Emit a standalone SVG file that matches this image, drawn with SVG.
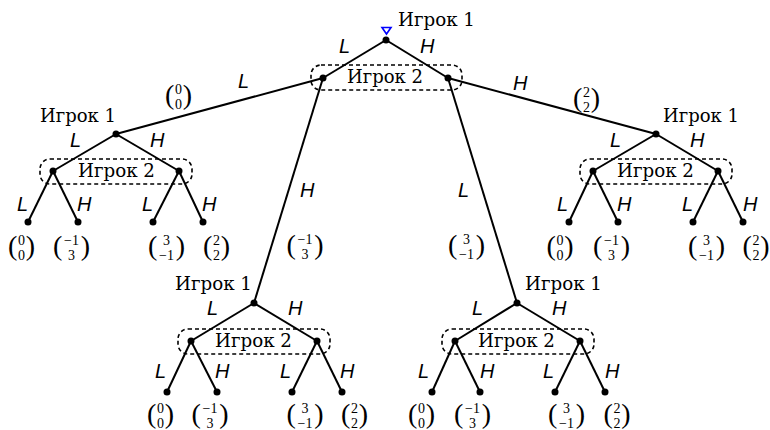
<svg xmlns="http://www.w3.org/2000/svg" width="770" height="430" viewBox="0 0 770 430">
<style>
.e{stroke:#000;stroke-width:2;fill:none}
.d{fill:#000}
.set{fill:none;stroke:#000;stroke-width:1.6;stroke-dasharray:4,3}
.pl{font-family:"DejaVu Serif","Liberation Serif",serif;font-size:18px;fill:#000}
.lb{font-family:"Liberation Sans",Arial,sans-serif;font-style:italic;font-size:20px;fill:#000}
.v{font-family:"Liberation Serif","Times New Roman",serif;fill:#000}
.num{font-size:14px;text-anchor:middle}
.pa{font-size:28px;text-anchor:start}
.pb{font-size:28px;text-anchor:end}
</style>
<rect width="770" height="430" fill="#fff"/>

<g id="connectors">
<line class="e" x1="386" y1="40" x2="323" y2="78"/>
<line class="e" x1="386" y1="40" x2="448" y2="78"/>
<line class="e" x1="323" y1="78" x2="116" y2="134"/>
<line class="e" x1="323" y1="78" x2="254" y2="303"/>
<line class="e" x1="448" y1="78" x2="517" y2="303"/>
<line class="e" x1="448" y1="78" x2="656" y2="134"/>
<line class="e" x1="116" y1="134" x2="53" y2="171"/>
<line class="e" x1="116" y1="134" x2="179" y2="171"/>
<line class="e" x1="53" y1="171" x2="28" y2="222"/>
<line class="e" x1="53" y1="171" x2="78" y2="222"/>
<line class="e" x1="179" y1="171" x2="153" y2="222"/>
<line class="e" x1="179" y1="171" x2="203" y2="222"/>
<line class="e" x1="656" y1="134" x2="593" y2="171"/>
<line class="e" x1="656" y1="134" x2="718" y2="171"/>
<line class="e" x1="593" y1="171" x2="569" y2="222"/>
<line class="e" x1="593" y1="171" x2="618" y2="222"/>
<line class="e" x1="718" y1="171" x2="693" y2="222"/>
<line class="e" x1="718" y1="171" x2="743" y2="222"/>
<line class="e" x1="254" y1="303" x2="191" y2="341"/>
<line class="e" x1="254" y1="303" x2="317" y2="341"/>
<line class="e" x1="191" y1="341" x2="167" y2="392"/>
<line class="e" x1="191" y1="341" x2="217" y2="392"/>
<line class="e" x1="317" y1="341" x2="292" y2="392"/>
<line class="e" x1="317" y1="341" x2="342" y2="392"/>
<line class="e" x1="517" y1="303" x2="455" y2="341"/>
<line class="e" x1="517" y1="303" x2="580" y2="341"/>
<line class="e" x1="455" y1="341" x2="432" y2="392"/>
<line class="e" x1="455" y1="341" x2="480" y2="392"/>
<line class="e" x1="580" y1="341" x2="555" y2="392"/>
<line class="e" x1="580" y1="341" x2="605" y2="392"/>

<text class="lb" x="339" y="53">L</text>
<text class="lb" x="420" y="53">H</text>
<text class="lb" x="238" y="88">L</text>
<text class="lb" x="513" y="90">H</text>
<text class="lb" x="300" y="197">H</text>
<text class="lb" x="458" y="197">L</text>

<text class="lb" x="70" y="147">L</text>
<text class="lb" x="150" y="147">H</text>
<text class="lb" x="17" y="211">L</text>
<text class="lb" x="77" y="211">H</text>
<text class="lb" x="142" y="211">L</text>
<text class="lb" x="202" y="211">H</text>

<text class="lb" x="610" y="147">L</text>
<text class="lb" x="690" y="147">H</text>
<text class="lb" x="557" y="211">L</text>
<text class="lb" x="617" y="211">H</text>
<text class="lb" x="682" y="211">L</text>
<text class="lb" x="743" y="211">H</text>

<text class="lb" x="207" y="315">L</text>
<text class="lb" x="288" y="315">H</text>
<text class="lb" x="155" y="378">L</text>
<text class="lb" x="215" y="378">H</text>
<text class="lb" x="280" y="378">L</text>
<text class="lb" x="340" y="378">H</text>

<text class="lb" x="472" y="315">L</text>
<text class="lb" x="552" y="315">H</text>
<text class="lb" x="418" y="378">L</text>
<text class="lb" x="480" y="378">H</text>
<text class="lb" x="543" y="378">L</text>
<text class="lb" x="605" y="378">H</text>
</g>

<g id="infosets">
<rect class="set" x="311" y="65" width="151" height="25" rx="10"/>
<rect class="set" x="40" y="159" width="152" height="25" rx="10"/>
<rect class="set" x="580" y="159" width="152" height="25" rx="10"/>
<rect class="set" x="178" y="329" width="152" height="25" rx="10"/>
<rect class="set" x="442" y="329" width="152" height="25" rx="10"/>
</g>

<g id="root">
<circle class="d" cx="386" cy="40" r="3.5"/>
<polygon points="382,27.5 391,27.5 386.5,34" fill="#fff" stroke="#0000ff" stroke-width="1.6"/>
<text class="pl" x="398" y="26" textLength="77" lengthAdjust="spacingAndGlyphs">Игрок 1</text>
</g>
<g id="p2top">
<circle class="d" cx="323" cy="78" r="3.5"/>
<circle class="d" cx="448" cy="78" r="3.5"/>
<text class="pl" x="347" y="83" textLength="76" lengthAdjust="spacingAndGlyphs">Игрок 2</text>
</g>

<g id="sub-left">
<circle class="d" cx="116" cy="134" r="3.5"/>
<text class="pl" x="40" y="122" textLength="76" lengthAdjust="spacingAndGlyphs">Игрок 1</text>
<circle class="d" cx="53" cy="171" r="3.5"/>
<circle class="d" cx="179" cy="171" r="3.5"/>
<text class="pl" x="78" y="177" textLength="77" lengthAdjust="spacingAndGlyphs">Игрок 2</text>
<circle class="d" cx="28" cy="222" r="3.5"/>
<circle class="d" cx="78" cy="222" r="3.5"/>
<circle class="d" cx="153" cy="222" r="3.5"/>
<circle class="d" cx="203" cy="222" r="3.5"/>
</g>
<g id="sub-right">
<circle class="d" cx="656" cy="134" r="3.5"/>
<text class="pl" x="663" y="122" textLength="76" lengthAdjust="spacingAndGlyphs">Игрок 1</text>
<circle class="d" cx="593" cy="171" r="3.5"/>
<circle class="d" cx="718" cy="171" r="3.5"/>
<text class="pl" x="617" y="177" textLength="77" lengthAdjust="spacingAndGlyphs">Игрок 2</text>
<circle class="d" cx="569" cy="222" r="3.5"/>
<circle class="d" cx="618" cy="222" r="3.5"/>
<circle class="d" cx="693" cy="222" r="3.5"/>
<circle class="d" cx="743" cy="222" r="3.5"/>
</g>
<g id="sub-bl">
<circle class="d" cx="254" cy="303" r="3.5"/>
<text class="pl" x="175" y="290" textLength="77" lengthAdjust="spacingAndGlyphs">Игрок 1</text>
<circle class="d" cx="191" cy="341" r="3.5"/>
<circle class="d" cx="317" cy="341" r="3.5"/>
<text class="pl" x="215" y="347" textLength="77" lengthAdjust="spacingAndGlyphs">Игрок 2</text>
<circle class="d" cx="167" cy="392" r="3.5"/>
<circle class="d" cx="217" cy="392" r="3.5"/>
<circle class="d" cx="292" cy="392" r="3.5"/>
<circle class="d" cx="342" cy="392" r="3.5"/>
</g>
<g id="sub-br">
<circle class="d" cx="517" cy="303" r="3.5"/>
<text class="pl" x="525" y="290" textLength="77" lengthAdjust="spacingAndGlyphs">Игрок 1</text>
<circle class="d" cx="455" cy="341" r="3.5"/>
<circle class="d" cx="580" cy="341" r="3.5"/>
<text class="pl" x="478" y="347" textLength="77" lengthAdjust="spacingAndGlyphs">Игрок 2</text>
<circle class="d" cx="432" cy="392" r="3.5"/>
<circle class="d" cx="480" cy="392" r="3.5"/>
<circle class="d" cx="555" cy="392" r="3.5"/>
<circle class="d" cx="605" cy="392" r="3.5"/>
</g>

<g id="payoffs">
<g transform="translate(178.5,97)"><text class="v"><tspan class="pa" x="-13.5" y="7">(</tspan><tspan class="num" x="0" y="-2.7">0</tspan><tspan class="num" x="0" y="12.3">0</tspan><tspan class="pb" x="13.5" y="7">)</tspan></text></g>
<g transform="translate(586.5,100)"><text class="v"><tspan class="pa" x="-13.5" y="7">(</tspan><tspan class="num" x="0" y="-2.7">2</tspan><tspan class="num" x="0" y="12.3">2</tspan><tspan class="pb" x="13.5" y="7">)</tspan></text></g>
<g transform="translate(305,247)"><text class="v"><tspan class="pa" x="-18.5" y="7">(</tspan><tspan class="num" x="0" y="-2.7">−1</tspan><tspan class="num" x="0" y="12.3">3</tspan><tspan class="pb" x="18.5" y="7">)</tspan></text></g>
<g transform="translate(466.5,247)"><text class="v"><tspan class="pa" x="-18.5" y="7">(</tspan><tspan class="num" x="0" y="-2.7">3</tspan><tspan class="num" x="0" y="12.3">−1</tspan><tspan class="pb" x="18.5" y="7">)</tspan></text></g>

<g transform="translate(21.5,248)"><text class="v"><tspan class="pa" x="-13.5" y="7">(</tspan><tspan class="num" x="0" y="-2.7">0</tspan><tspan class="num" x="0" y="12.3">0</tspan><tspan class="pb" x="13.5" y="7">)</tspan></text></g>
<g transform="translate(71.5,248)"><text class="v"><tspan class="pa" x="-18.5" y="7">(</tspan><tspan class="num" x="0" y="-2.7">−1</tspan><tspan class="num" x="0" y="12.3">3</tspan><tspan class="pb" x="18.5" y="7">)</tspan></text></g>
<g transform="translate(166.5,248)"><text class="v"><tspan class="pa" x="-18.5" y="7">(</tspan><tspan class="num" x="0" y="-2.7">3</tspan><tspan class="num" x="0" y="12.3">−1</tspan><tspan class="pb" x="18.5" y="7">)</tspan></text></g>
<g transform="translate(216.5,248)"><text class="v"><tspan class="pa" x="-13.5" y="7">(</tspan><tspan class="num" x="0" y="-2.7">2</tspan><tspan class="num" x="0" y="12.3">2</tspan><tspan class="pb" x="13.5" y="7">)</tspan></text></g>

<g transform="translate(560,248)"><text class="v"><tspan class="pa" x="-13.5" y="7">(</tspan><tspan class="num" x="0" y="-2.7">0</tspan><tspan class="num" x="0" y="12.3">0</tspan><tspan class="pb" x="13.5" y="7">)</tspan></text></g>
<g transform="translate(611.5,248)"><text class="v"><tspan class="pa" x="-18.5" y="7">(</tspan><tspan class="num" x="0" y="-2.7">−1</tspan><tspan class="num" x="0" y="12.3">3</tspan><tspan class="pb" x="18.5" y="7">)</tspan></text></g>
<g transform="translate(706.5,248)"><text class="v"><tspan class="pa" x="-18.5" y="7">(</tspan><tspan class="num" x="0" y="-2.7">3</tspan><tspan class="num" x="0" y="12.3">−1</tspan><tspan class="pb" x="18.5" y="7">)</tspan></text></g>
<g transform="translate(756,248)"><text class="v"><tspan class="pa" x="-13.5" y="7">(</tspan><tspan class="num" x="0" y="-2.7">2</tspan><tspan class="num" x="0" y="12.3">2</tspan><tspan class="pb" x="13.5" y="7">)</tspan></text></g>

<g transform="translate(160.5,416)"><text class="v"><tspan class="pa" x="-13.5" y="7">(</tspan><tspan class="num" x="0" y="-2.7">0</tspan><tspan class="num" x="0" y="12.3">0</tspan><tspan class="pb" x="13.5" y="7">)</tspan></text></g>
<g transform="translate(210,416)"><text class="v"><tspan class="pa" x="-18.5" y="7">(</tspan><tspan class="num" x="0" y="-2.7">−1</tspan><tspan class="num" x="0" y="12.3">3</tspan><tspan class="pb" x="18.5" y="7">)</tspan></text></g>
<g transform="translate(305,416)"><text class="v"><tspan class="pa" x="-18.5" y="7">(</tspan><tspan class="num" x="0" y="-2.7">3</tspan><tspan class="num" x="0" y="12.3">−1</tspan><tspan class="pb" x="18.5" y="7">)</tspan></text></g>
<g transform="translate(354.5,416)"><text class="v"><tspan class="pa" x="-13.5" y="7">(</tspan><tspan class="num" x="0" y="-2.7">2</tspan><tspan class="num" x="0" y="12.3">2</tspan><tspan class="pb" x="13.5" y="7">)</tspan></text></g>

<g transform="translate(421.5,416)"><text class="v"><tspan class="pa" x="-13.5" y="7">(</tspan><tspan class="num" x="0" y="-2.7">0</tspan><tspan class="num" x="0" y="12.3">0</tspan><tspan class="pb" x="13.5" y="7">)</tspan></text></g>
<g transform="translate(472.5,416)"><text class="v"><tspan class="pa" x="-18.5" y="7">(</tspan><tspan class="num" x="0" y="-2.7">−1</tspan><tspan class="num" x="0" y="12.3">3</tspan><tspan class="pb" x="18.5" y="7">)</tspan></text></g>
<g transform="translate(566.5,416)"><text class="v"><tspan class="pa" x="-18.5" y="7">(</tspan><tspan class="num" x="0" y="-2.7">3</tspan><tspan class="num" x="0" y="12.3">−1</tspan><tspan class="pb" x="18.5" y="7">)</tspan></text></g>
<g transform="translate(617,416)"><text class="v"><tspan class="pa" x="-13.5" y="7">(</tspan><tspan class="num" x="0" y="-2.7">2</tspan><tspan class="num" x="0" y="12.3">2</tspan><tspan class="pb" x="13.5" y="7">)</tspan></text></g>
</g>
</svg>
